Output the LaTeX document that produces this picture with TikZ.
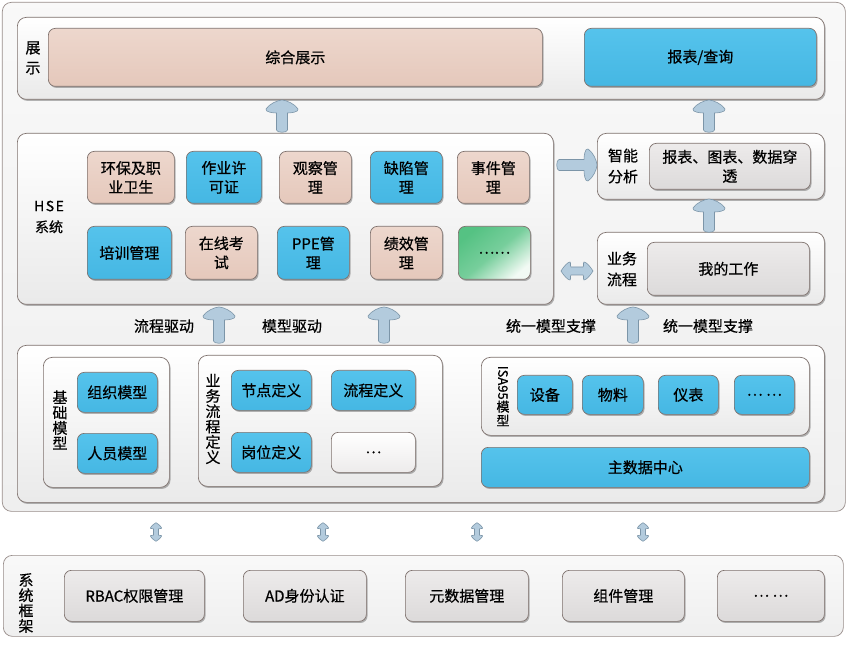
\documentclass[tikz,border=0pt]{standalone}
\usepackage{fontspec}
\newfontfamily\cjk{Noto Sans CJK SC}[FakeBold=0.6]
\usetikzlibrary{shadows,calc}
\definecolor{bordc}{HTML}{7E716D}
\definecolor{framec}{HTML}{EFEFEF}
\definecolor{contc}{HTML}{F6F6F6}
\definecolor{pinkt}{HTML}{EDD7CD}
\definecolor{pinkb}{HTML}{E5C8BB}
\definecolor{bluet}{HTML}{55C3EC}
\definecolor{blueb}{HTML}{45B7E3}
\definecolor{greyt}{HTML}{EDEBEB}
\definecolor{greyb}{HTML}{DCDADA}
\definecolor{greenc}{HTML}{55C283}
\definecolor{greenl}{HTML}{F2FAF4}
\definecolor{arrc}{HTML}{B3CBDD}
\definecolor{arrb}{HTML}{7C95A8}
\newcommand\bx[7]{%
  \pgfmathsetmacro\bxw{#5-#3}\pgfmathsetmacro\bxh{#6-#4}%
  \node[#2, minimum width=\bxw pt, minimum height=\bxh pt] (#1) at (#3,#4) {#7};}
\tikzset{
  base/.style={draw=bordc, line width=0.7pt, rounded corners=7pt, align=center,
    inner sep=0pt, font=\cjk\fontsize{15}{19}\selectfont, anchor=north west},
  shad/.style={drop shadow={shadow xshift=1.2pt, shadow yshift=-1.6pt, opacity=0.28, fill=black}},
  framebox/.style={base, top color=white!60!framec, bottom color=framec, draw=bordc!80, rounded corners=9pt},
  contbox/.style={base, top color=white, bottom color=contc!95!black, shad, rounded corners=9pt},
  pinkbox/.style={base, top color=pinkt, bottom color=pinkb, shad},
  bluebox/.style={base, top color=bluet, bottom color=blueb, shad},
  greybox/.style={base, top color=greyt, bottom color=greyb, shad},
  whitebox/.style={base, top color=white, bottom color=greyt, shad},
  greenbox/.style={base, top color=greenc, bottom color=greenl, middle color=greenc!80!white, shading angle=40, shad},
  lbl/.style={font=\cjk\fontsize{15}{20}\selectfont, align=center, inner sep=0pt},
  vlbl/.style={font=\cjk\fontsize{15}{15.3}\selectfont, align=center, inner sep=0pt},
  arrowsty/.style={fill=arrc, draw=arrb, line width=0.6pt},
  pics/uparr/.style={code={
    \draw[arrowsty] (-5.5,-2) -- (-5.5,-#1+13)
      .. controls (-9,-#1+13) and (-17,-#1+12) .. (-16,-#1+9)
      .. controls (-13,-#1+4) and (-4,-#1) .. (0,-#1)
      .. controls (4,-#1) and (13,-#1+4) .. (16,-#1+9)
      .. controls (17,-#1+12) and (9,-#1+13) .. (5.5,-#1+13)
      -- (5.5,-2) .. controls (5.5,1) and (-5.5,1) .. (-5.5,-2) -- cycle;
  }},
  pics/dblarr/.style={code={
    \pgfmathsetmacro\hh{#1/2}
    \draw[arrowsty] (-\hh,0) .. controls (-\hh+3,-5) and (-\hh+7,-9) .. (-\hh+9,-9)
      .. controls (-\hh+10,-9) and (-\hh+9,-4) .. (-\hh+10,-4) -- (\hh-10,-4)
      .. controls (\hh-9,-4) and (\hh-10,-9) .. (\hh-9,-9)
      .. controls (\hh-7,-9) and (\hh-3,-5) .. (\hh,0)
      .. controls (\hh-3,5) and (\hh-7,9) .. (\hh-9,9)
      .. controls (\hh-10,9) and (\hh-9,4) .. (\hh-10,4) -- (-\hh+10,4)
      .. controls (-\hh+9,4) and (-\hh+10,9) .. (-\hh+9,9)
      .. controls (-\hh+7,9) and (-\hh+3,5) .. (-\hh,0) -- cycle;
  }},
}
\begin{document}
\begin{tikzpicture}[x=1pt,y=-1pt]
\useasboundingbox[fill=white] (0,0) rectangle (847,647);
% ---------- top frame ----------
\bx{top}{framebox}{2}{2}{845}{511}{}
% ---------- display ----------
\bx{zs}{contbox}{17}{17}{824}{99}{}
\node[lbl] (zslbl) at (33,58) {展\\示};
\bx{zhzs}{pinkbox}{48}{28}{542}{86}{综合展示}
\bx{bbcx}{bluebox}{584}{28}{816}{86}{报表/查询}
\pic at (282,132) {uparr=32};
\pic at (709,132) {uparr=32};
% ---------- HSE ----------
\bx{hse}{contbox}{17}{133}{553}{304}{}
\node[lbl, font=\cjk\fontsize{14}{21}\selectfont] (hselbl) at (49,217) {H\hspace{1.5pt}S\hspace{1.5pt}E\\系统};
\bx{h1}{pinkbox}{87}{151}{174}{203}{环保及职\\业卫生}
\bx{h2}{bluebox}{186}{151}{261}{203}{作业许\\可证}
\bx{h3}{pinkbox}{279}{151}{351}{203}{观察管\\理}
\bx{h4}{bluebox}{370}{151}{442}{203}{缺陷管\\理}
\bx{h5}{pinkbox}{457}{151}{529}{203}{事件管\\理}
\bx{h6}{bluebox}{87}{226}{171}{279}{培训管理}
\bx{h7}{pinkbox}{185}{226}{257}{279}{在线考\\试}
\bx{h8}{bluebox}{277}{226}{349}{279}{PPE管\\理}
\bx{h9}{pinkbox}{370}{226}{442}{279}{绩效管\\理}
\bx{h10}{greenbox}{458}{226}{530}{279}{……}
% ---------- right column ----------
\bx{znfx}{contbox}{597}{133}{824}{199}{}
\node[lbl, font=\cjk\fontsize{15}{21}\selectfont] (znlbl) at (623,166) {智能\\分析};
\bx{bbtb}{greybox}{649}{143}{810}{189}{报表、图表、数据穿\\透}
\bx{ywlc}{contbox}{597}{232}{824}{304}{}
\node[lbl, font=\cjk\fontsize{15}{21}\selectfont] (ywlbl) at (622,269) {业务\\流程};
\bx{wdgz}{greybox}{647}{242}{809}{295}{我的工作}
\pic[rotate=-90] at (557,165) {uparr=40};
\pic at (709,232) {uparr=33};
\pic at (577,271) {dblarr=32};
% ---------- middle labels ----------
\node[lbl] (d1) at (164,326) {流程驱动};
\node[lbl] (d2) at (292,326) {模型驱动};
\node[lbl] (d3) at (551,326) {统一模型支撑};
\node[lbl] (d4) at (708,326) {统一模型支撑};
\pic at (219,343) {uparr=36};
\pic at (384,343) {uparr=36};
\pic at (633,343) {uparr=36};
% ---------- model layer ----------
\bx{mdl}{contbox}{17}{345}{824}{502}{}
\bx{jc}{contbox}{43}{357}{169}{487}{}
\node[vlbl] (jclbl) at (60,420) {基\\础\\模\\型};
\bx{zzmx}{bluebox}{77}{372}{157}{412}{组织模型}
\bx{rymx}{bluebox}{77}{433}{157}{473}{人员模型}
\bx{yw}{contbox}{198}{355}{442}{486}{}
\node[vlbl] (ywdlbl) at (213,419) {业\\务\\流\\程\\定\\义};
\bx{jddy}{bluebox}{231}{370}{311}{410}{节点定义}
\bx{lcdy}{bluebox}{331}{370}{415}{410}{流程定义}
\bx{gwdy}{bluebox}{231}{432}{311}{472}{岗位定义}
\bx{etc1}{whitebox}{331}{432}{415}{472}{…}
\bx{isa}{contbox}{481}{357}{809}{435}{}
\node[vlbl, font=\cjk\fontsize{13}{14}\selectfont] (isalbl) at (503,396) {\rotatebox{-90}{ISA95}\\模\\型};
\bx{sb}{bluebox}{517}{375}{572}{414}{设备}
\bx{wl}{bluebox}{582}{375}{643}{414}{物料}
\bx{yb}{bluebox}{658}{375}{718}{414}{仪表}
\bx{etc2}{bluebox}{734}{375}{794}{414}{… …}
\bx{zsj}{bluebox}{481}{447}{809}{487}{主数据中心}
% ---------- small connectors ----------
\pic[rotate=90, scale=0.62] at (156,532) {dblarr=30};
\pic[rotate=90, scale=0.62] at (323,532) {dblarr=30};
\pic[rotate=90, scale=0.62] at (477,532) {dblarr=30};
\pic[rotate=90, scale=0.62] at (643,532) {dblarr=30};
% ---------- framework ----------
\bx{xt}{framebox}{3}{555}{843}{636}{}
\node[vlbl] (xtlbl) at (26,603) {系\\统\\框\\架};
\bx{rbac}{greybox}{64}{570}{204}{621}{RBAC权限管理}
\bx{ad}{greybox}{243}{570}{366}{621}{AD身份认证}
\bx{ysj}{greybox}{405}{570}{528}{621}{元数据管理}
\bx{zj}{greybox}{562}{570}{684}{621}{组件管理}
\bx{etc3}{greybox}{717}{570}{824}{621}{… …}
\end{tikzpicture}
\end{document}
